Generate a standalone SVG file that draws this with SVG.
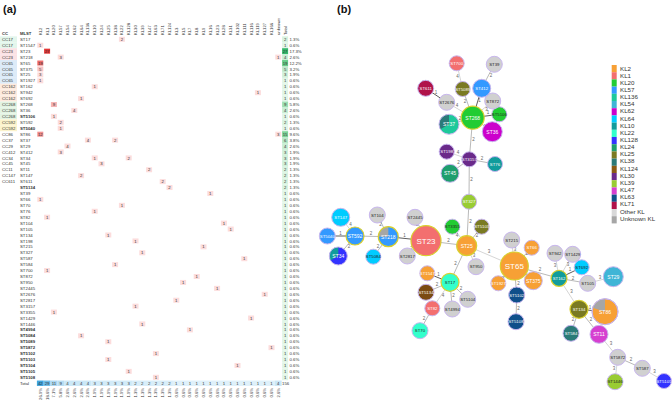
<svg xmlns="http://www.w3.org/2000/svg" width="672" height="405" viewBox="0 0 672 405">
<style>
text{font-family:"Liberation Sans",Arial,sans-serif;font-size:4.3px;fill:#333}
.c{text-anchor:middle}
.b{font-weight:bold}
.k{fill:#fcdcdc}
.hd text{font-size:4.2px}
.pc text{font-size:4.2px;text-anchor:end}
.e1{stroke:#333;stroke-width:0.8}
.e2{stroke:#8a8a8a;stroke-width:0.6}
.e3{stroke:#aaa;stroke-width:0.5}
.el{font-size:4.5px;fill:#666;text-anchor:middle}
.n{stroke:#c8b6ee;stroke-width:1}
.y{stroke:#d9cf2e;stroke-width:1.2}
.nl{text-anchor:middle;fill:#fff;font-size:4.3px}
.nd{fill:#222}
.big{font-size:8px}
.mid{font-size:5px}
.lg text{font-size:6.2px;fill:#333}
.pl{font-size:11px;font-weight:bold;fill:#111}
</style>
<rect width="672" height="405" fill="#fff"/>
<text class="pl" x="3" y="13">(a)</text>
<text class="pl" x="337" y="13">(b)</text>

<g id="table">
<g class="hd">
<text class="b" x="2" y="35">CC</text><text class="b" x="20" y="35">MLST</text>
<text transform="translate(41.8,35) rotate(-90)">KL2</text>
<text transform="translate(48.6,35) rotate(-90)">KL1</text>
<text transform="translate(55.4,35) rotate(-90)">KL20</text>
<text transform="translate(62.2,35) rotate(-90)">KL57</text>
<text transform="translate(69,35) rotate(-90)">KL54</text>
<text transform="translate(75.8,35) rotate(-90)">KL62</text>
<text transform="translate(82.6,35) rotate(-90)">KL64</text>
<text transform="translate(89.4,35) rotate(-90)">KL136</text>
<text transform="translate(96.2,35) rotate(-90)">KL10</text>
<text transform="translate(103,35) rotate(-90)">KL24</text>
<text transform="translate(109.8,35) rotate(-90)">KL25</text>
<text transform="translate(116.6,35) rotate(-90)">KL38</text>
<text transform="translate(123.4,35) rotate(-90)">KL22</text>
<text transform="translate(130.2,35) rotate(-90)">KL128</text>
<text transform="translate(137,35) rotate(-90)">KL30</text>
<text transform="translate(143.8,35) rotate(-90)">KL39</text>
<text transform="translate(150.6,35) rotate(-90)">KL47</text>
<text transform="translate(157.4,35) rotate(-90)">KL63</text>
<text transform="translate(164.2,35) rotate(-90)">KL71</text>
<text transform="translate(171,35) rotate(-90)">KL124</text>
<text transform="translate(177.8,35) rotate(-90)">KL3</text>
<text transform="translate(184.6,35) rotate(-90)">KL5</text>
<text transform="translate(191.4,35) rotate(-90)">KL7</text>
<text transform="translate(198.2,35) rotate(-90)">KL8</text>
<text transform="translate(205,35) rotate(-90)">KL9</text>
<text transform="translate(211.8,35) rotate(-90)">KL16</text>
<text transform="translate(218.6,35) rotate(-90)">KL23</text>
<text transform="translate(225.4,35) rotate(-90)">KL28</text>
<text transform="translate(232.2,35) rotate(-90)">KL31</text>
<text transform="translate(239,35) rotate(-90)">KL102</text>
<text transform="translate(245.8,35) rotate(-90)">KL111</text>
<text transform="translate(252.6,35) rotate(-90)">KL116</text>
<text transform="translate(259.4,35) rotate(-90)">KL119</text>
<text transform="translate(266.2,35) rotate(-90)">KL127</text>
<text transform="translate(273,35) rotate(-90)">KL166</text>
<text transform="translate(279.8,35) rotate(-90)">unknown</text>
<text transform="translate(286.6,35) rotate(-90)">Total</text>
</g>

<g transform="translate(0,39.3)"><rect x="0" y="-2.97" width="17" height="5.93" fill="#e3f6ec"/><text x="2" y="1.6">CC17</text><text x="20" y="1.6">ST17</text><rect class="k" x="118.9" y="-2.5" width="6" height="5"/><text class="c" x="121.9" y="1.6">2</text><rect x="282.1" y="-2.97" width="6" height="5.93" fill="#d9f3e0"/><text class="c" x="285.1" y="1.6">2</text><text x="289.5" y="1.6">1.3%</text></g>
<g transform="translate(0,45.23)"><rect x="0" y="-2.97" width="17" height="5.93" fill="#e3f6ec"/><text x="2" y="1.6">CC17</text><text x="20" y="1.6">ST1547</text><rect class="k" x="37.3" y="-2.5" width="6" height="5"/><text class="c" x="40.3" y="1.6">1</text><rect x="282.1" y="-2.97" width="6" height="5.93" fill="#e2f6e7"/><text class="c" x="285.1" y="1.6">1</text><text x="289.5" y="1.6">0.6%</text></g>
<g transform="translate(0,51.16)"><rect x="0" y="-2.97" width="17" height="5.93" fill="#fbe2e5"/><text x="2" y="1.6">CC23</text><text x="20" y="1.6">ST23</text><rect x="44.1" y="-2.5" width="6" height="5" fill="#e53535"/><text class="c" x="47.1" y="1.6">27</text><rect x="282.1" y="-2.97" width="6" height="5.93" fill="#35b86a"/><text class="c" x="285.1" y="1.6">27</text><text x="289.5" y="1.6">17.3%</text></g>
<g transform="translate(0,57.09)"><rect x="0" y="-2.97" width="17" height="5.93" fill="#fbe2e5"/><text x="2" y="1.6">CC23</text><text x="20" y="1.6">ST218</text><rect class="k" x="57.7" y="-2.5" width="6" height="5"/><text class="c" x="60.7" y="1.6">3</text><rect class="k" x="275.3" y="-2.5" width="6" height="5"/><text class="c" x="278.3" y="1.6">1</text><rect x="282.1" y="-2.97" width="6" height="5.93" fill="#c9eed3"/><text class="c" x="285.1" y="1.6">4</text><text x="289.5" y="1.6">2.6%</text></g>
<g transform="translate(0,63.02)"><rect x="0" y="-2.97" width="17" height="5.93" fill="#dcebf8"/><text x="2" y="1.6">CC65</text><text x="20" y="1.6">ST65</text><rect x="37.3" y="-2.5" width="6" height="5" fill="#ee6b6b"/><text class="c" x="40.3" y="1.6">19</text><rect x="282.1" y="-2.97" width="6" height="5.93" fill="#66cc88"/><text class="c" x="285.1" y="1.6">19</text><text x="289.5" y="1.6">12.2%</text></g>
<g transform="translate(0,68.95)"><rect x="0" y="-2.97" width="17" height="5.93" fill="#dcebf8"/><text x="2" y="1.6">CC65</text><text x="20" y="1.6">ST375</text><rect x="37.3" y="-2.5" width="6" height="5" fill="#f9c4c4"/><text class="c" x="40.3" y="1.6">5</text><rect x="282.1" y="-2.97" width="6" height="5.93" fill="#bfe9cb"/><text class="c" x="285.1" y="1.6">5</text><text x="289.5" y="1.6">3.2%</text></g>
<g transform="translate(0,74.88)"><rect x="0" y="-2.97" width="17" height="5.93" fill="#dcebf8"/><text x="2" y="1.6">CC65</text><text x="20" y="1.6">ST25</text><rect class="k" x="37.3" y="-2.5" width="6" height="5"/><text class="c" x="40.3" y="1.6">3</text><rect x="282.1" y="-2.97" width="6" height="5.93" fill="#d2f0da"/><text class="c" x="285.1" y="1.6">3</text><text x="289.5" y="1.6">1.9%</text></g>
<g transform="translate(0,80.81)"><rect x="0" y="-2.97" width="17" height="5.93" fill="#dcebf8"/><text x="2" y="1.6">CC65</text><text x="20" y="1.6">ST1927</text><rect class="k" x="37.3" y="-2.5" width="6" height="5"/><text class="c" x="40.3" y="1.6">1</text><rect x="282.1" y="-2.97" width="6" height="5.93" fill="#e2f6e7"/><text class="c" x="285.1" y="1.6">1</text><text x="289.5" y="1.6">0.6%</text></g>
<g transform="translate(0,86.74)"><rect x="0" y="-2.97" width="17" height="5.93" fill="#fdeadd"/><text x="2" y="1.6">CC162</text><text x="20" y="1.6">ST162</text><rect class="k" x="91.7" y="-2.5" width="6" height="5"/><text class="c" x="94.7" y="1.6">1</text><rect x="282.1" y="-2.97" width="6" height="5.93" fill="#e2f6e7"/><text class="c" x="285.1" y="1.6">1</text><text x="289.5" y="1.6">0.6%</text></g>
<g transform="translate(0,92.67)"><rect x="0" y="-2.97" width="17" height="5.93" fill="#fdeadd"/><text x="2" y="1.6">CC162</text><text x="20" y="1.6">ST942</text><rect class="k" x="254.9" y="-2.5" width="6" height="5"/><text class="c" x="257.9" y="1.6">1</text><rect x="282.1" y="-2.97" width="6" height="5.93" fill="#e2f6e7"/><text class="c" x="285.1" y="1.6">1</text><text x="289.5" y="1.6">0.6%</text></g>
<g transform="translate(0,98.6)"><rect x="0" y="-2.97" width="17" height="5.93" fill="#fdeadd"/><text x="2" y="1.6">CC162</text><text x="20" y="1.6">ST692</text><rect class="k" x="78.1" y="-2.5" width="6" height="5"/><text class="c" x="81.1" y="1.6">1</text><rect x="282.1" y="-2.97" width="6" height="5.93" fill="#e2f6e7"/><text class="c" x="285.1" y="1.6">1</text><text x="289.5" y="1.6">0.6%</text></g>
<g transform="translate(0,104.53)"><rect x="0" y="-2.97" width="17" height="5.93" fill="#e2f3e2"/><text x="2" y="1.6">CC268</text><text x="20" y="1.6">ST268</text><rect x="50.9" y="-2.5" width="6" height="5" fill="#f6b3b3"/><text class="c" x="53.9" y="1.6">9</text><rect x="282.1" y="-2.97" width="6" height="5.93" fill="#9fdfb3"/><text class="c" x="285.1" y="1.6">9</text><text x="289.5" y="1.6">5.8%</text></g>
<g transform="translate(0,110.46)"><rect x="0" y="-2.97" width="17" height="5.93" fill="#e2f3e2"/><text x="2" y="1.6">CC268</text><text x="20" y="1.6">ST36</text><rect class="k" x="71.3" y="-2.5" width="6" height="5"/><text class="c" x="74.3" y="1.6">4</text><rect x="282.1" y="-2.97" width="6" height="5.93" fill="#c9eed3"/><text class="c" x="285.1" y="1.6">4</text><text x="289.5" y="1.6">2.6%</text></g>
<g transform="translate(0,116.39)"><rect x="0" y="-2.97" width="17" height="5.93" fill="#e2f3e2"/><text x="2" y="1.6">CC268</text><text class="b" x="20" y="1.6">ST5106</text><rect class="k" x="50.9" y="-2.5" width="6" height="5"/><text class="c" x="53.9" y="1.6">1</text><rect x="282.1" y="-2.97" width="6" height="5.93" fill="#e2f6e7"/><text class="c" x="285.1" y="1.6">1</text><text x="289.5" y="1.6">0.6%</text></g>
<g transform="translate(0,122.32)"><rect x="0" y="-2.97" width="17" height="5.93" fill="#fbf3cc"/><text x="2" y="1.6">CC592</text><text x="20" y="1.6">ST592</text><rect class="k" x="57.7" y="-2.5" width="6" height="5"/><text class="c" x="60.7" y="1.6">2</text><rect x="282.1" y="-2.97" width="6" height="5.93" fill="#d9f3e0"/><text class="c" x="285.1" y="1.6">2</text><text x="289.5" y="1.6">1.3%</text></g>
<g transform="translate(0,128.25)"><rect x="0" y="-2.97" width="17" height="5.93" fill="#fbf3cc"/><text x="2" y="1.6">CC592</text><text class="b" x="20" y="1.6">ST5040</text><rect class="k" x="57.7" y="-2.5" width="6" height="5"/><text class="c" x="60.7" y="1.6">1</text><rect x="282.1" y="-2.97" width="6" height="5.93" fill="#e2f6e7"/><text class="c" x="285.1" y="1.6">1</text><text x="289.5" y="1.6">0.6%</text></g>
<g transform="translate(0,134.18)"><text x="2" y="1.6">CC86</text><text x="20" y="1.6">ST86</text><rect x="37.3" y="-2.5" width="6" height="5" fill="#f38f8f"/><text class="c" x="40.3" y="1.6">12</text><rect class="k" x="275.3" y="-2.5" width="6" height="5"/><text class="c" x="278.3" y="1.6">3</text><rect x="282.1" y="-2.97" width="6" height="5.93" fill="#7dd498"/><text class="c" x="285.1" y="1.6">15</text><text x="289.5" y="1.6">9.6%</text></g>
<g transform="translate(0,140.11)"><text x="2" y="1.6">CC37</text><text x="20" y="1.6">ST37</text><rect class="k" x="84.9" y="-2.5" width="6" height="5"/><text class="c" x="87.9" y="1.6">4</text><rect class="k" x="112.1" y="-2.5" width="6" height="5"/><text class="c" x="115.1" y="1.6">2</text><rect x="282.1" y="-2.97" width="6" height="5.93" fill="#b8e7c6"/><text class="c" x="285.1" y="1.6">6</text><text x="289.5" y="1.6">3.8%</text></g>
<g transform="translate(0,146.04)"><text x="2" y="1.6">CC29</text><text x="20" y="1.6">ST29</text><rect class="k" x="64.5" y="-2.5" width="6" height="5"/><text class="c" x="67.5" y="1.6">4</text><rect x="282.1" y="-2.97" width="6" height="5.93" fill="#c9eed3"/><text class="c" x="285.1" y="1.6">4</text><text x="289.5" y="1.6">2.6%</text></g>
<g transform="translate(0,151.97)"><text x="2" y="1.6">CC412</text><text x="20" y="1.6">ST412</text><rect class="k" x="57.7" y="-2.5" width="6" height="5"/><text class="c" x="60.7" y="1.6">3</text><rect x="282.1" y="-2.97" width="6" height="5.93" fill="#d2f0da"/><text class="c" x="285.1" y="1.6">3</text><text x="289.5" y="1.6">1.9%</text></g>
<g transform="translate(0,157.9)"><text x="2" y="1.6">CC34</text><text x="20" y="1.6">ST34</text><rect class="k" x="91.7" y="-2.5" width="6" height="5"/><text class="c" x="94.7" y="1.6">1</text><rect class="k" x="125.7" y="-2.5" width="6" height="5"/><text class="c" x="128.7" y="1.6">2</text><rect x="282.1" y="-2.97" width="6" height="5.93" fill="#d2f0da"/><text class="c" x="285.1" y="1.6">3</text><text x="289.5" y="1.6">1.9%</text></g>
<g transform="translate(0,163.83)"><text x="2" y="1.6">CC45</text><text x="20" y="1.6">ST45</text><rect class="k" x="98.5" y="-2.5" width="6" height="5"/><text class="c" x="101.5" y="1.6">3</text><rect x="282.1" y="-2.97" width="6" height="5.93" fill="#d2f0da"/><text class="c" x="285.1" y="1.6">3</text><text x="289.5" y="1.6">1.9%</text></g>
<g transform="translate(0,169.76)"><text x="2" y="1.6">CC11</text><text x="20" y="1.6">ST11</text><rect class="k" x="146.1" y="-2.5" width="6" height="5"/><text class="c" x="149.1" y="1.6">2</text><rect x="282.1" y="-2.97" width="6" height="5.93" fill="#d9f3e0"/><text class="c" x="285.1" y="1.6">2</text><text x="289.5" y="1.6">1.3%</text></g>
<g transform="translate(0,175.69)"><text x="2" y="1.6">CC147</text><text x="20" y="1.6">ST147</text><rect class="k" x="78.1" y="-2.5" width="6" height="5"/><text class="c" x="81.1" y="1.6">2</text><rect x="282.1" y="-2.97" width="6" height="5.93" fill="#d9f3e0"/><text class="c" x="285.1" y="1.6">2</text><text x="289.5" y="1.6">1.3%</text></g>
<g transform="translate(0,181.62)"><text x="2" y="1.6">CC611</text><text x="20" y="1.6">ST611</text><rect class="k" x="159.7" y="-2.5" width="6" height="5"/><text class="c" x="162.7" y="1.6">2</text><rect x="282.1" y="-2.97" width="6" height="5.93" fill="#d9f3e0"/><text class="c" x="285.1" y="1.6">2</text><text x="289.5" y="1.6">1.3%</text></g>
<g transform="translate(0,187.55)"><text class="b" x="20" y="1.6">ST5134</text><rect class="k" x="166.5" y="-2.5" width="6" height="5"/><text class="c" x="169.5" y="1.6">2</text><rect x="282.1" y="-2.97" width="6" height="5.93" fill="#d9f3e0"/><text class="c" x="285.1" y="1.6">2</text><text x="289.5" y="1.6">1.3%</text></g>
<g transform="translate(0,193.48)"><text x="20" y="1.6">ST39</text><rect class="k" x="207.3" y="-2.5" width="6" height="5"/><text class="c" x="210.3" y="1.6">1</text><rect x="282.1" y="-2.97" width="6" height="5.93" fill="#e2f6e7"/><text class="c" x="285.1" y="1.6">1</text><text x="289.5" y="1.6">0.6%</text></g>
<g transform="translate(0,199.41)"><text x="20" y="1.6">ST66</text><rect class="k" x="37.3" y="-2.5" width="6" height="5"/><text class="c" x="40.3" y="1.6">1</text><rect x="282.1" y="-2.97" width="6" height="5.93" fill="#e2f6e7"/><text class="c" x="285.1" y="1.6">1</text><text x="289.5" y="1.6">0.6%</text></g>
<g transform="translate(0,205.34)"><text x="20" y="1.6">ST70</text><rect class="k" x="118.9" y="-2.5" width="6" height="5"/><text class="c" x="121.9" y="1.6">1</text><rect x="282.1" y="-2.97" width="6" height="5.93" fill="#e2f6e7"/><text class="c" x="285.1" y="1.6">1</text><text x="289.5" y="1.6">0.6%</text></g>
<g transform="translate(0,211.27)"><text x="20" y="1.6">ST76</text><rect class="k" x="91.7" y="-2.5" width="6" height="5"/><text class="c" x="94.7" y="1.6">1</text><rect x="282.1" y="-2.97" width="6" height="5.93" fill="#e2f6e7"/><text class="c" x="285.1" y="1.6">1</text><text x="289.5" y="1.6">0.6%</text></g>
<g transform="translate(0,217.2)"><text x="20" y="1.6">ST82</text><rect class="k" x="44.1" y="-2.5" width="6" height="5"/><text class="c" x="47.1" y="1.6">1</text><rect x="282.1" y="-2.97" width="6" height="5.93" fill="#e2f6e7"/><text class="c" x="285.1" y="1.6">1</text><text x="289.5" y="1.6">0.6%</text></g>
<g transform="translate(0,223.13)"><text x="20" y="1.6">ST104</text><rect class="k" x="220.9" y="-2.5" width="6" height="5"/><text class="c" x="223.9" y="1.6">1</text><rect x="282.1" y="-2.97" width="6" height="5.93" fill="#e2f6e7"/><text class="c" x="285.1" y="1.6">1</text><text x="289.5" y="1.6">0.6%</text></g>
<g transform="translate(0,229.06)"><text x="20" y="1.6">ST105</text><rect class="k" x="227.7" y="-2.5" width="6" height="5"/><text class="c" x="230.7" y="1.6">1</text><rect x="282.1" y="-2.97" width="6" height="5.93" fill="#e2f6e7"/><text class="c" x="285.1" y="1.6">1</text><text x="289.5" y="1.6">0.6%</text></g>
<g transform="translate(0,234.99)"><text x="20" y="1.6">ST134</text><rect class="k" x="105.3" y="-2.5" width="6" height="5"/><text class="c" x="108.3" y="1.6">1</text><rect x="282.1" y="-2.97" width="6" height="5.93" fill="#e2f6e7"/><text class="c" x="285.1" y="1.6">1</text><text x="289.5" y="1.6">0.6%</text></g>
<g transform="translate(0,240.92)"><text x="20" y="1.6">ST198</text><rect class="k" x="132.5" y="-2.5" width="6" height="5"/><text class="c" x="135.5" y="1.6">1</text><rect x="282.1" y="-2.97" width="6" height="5.93" fill="#e2f6e7"/><text class="c" x="285.1" y="1.6">1</text><text x="289.5" y="1.6">0.6%</text></g>
<g transform="translate(0,246.85)"><text x="20" y="1.6">ST215</text><rect class="k" x="200.5" y="-2.5" width="6" height="5"/><text class="c" x="203.5" y="1.6">1</text><rect x="282.1" y="-2.97" width="6" height="5.93" fill="#e2f6e7"/><text class="c" x="285.1" y="1.6">1</text><text x="289.5" y="1.6">0.6%</text></g>
<g transform="translate(0,252.78)"><text x="20" y="1.6">ST327</text><rect class="k" x="139.3" y="-2.5" width="6" height="5"/><text class="c" x="142.3" y="1.6">1</text><rect x="282.1" y="-2.97" width="6" height="5.93" fill="#e2f6e7"/><text class="c" x="285.1" y="1.6">1</text><text x="289.5" y="1.6">0.6%</text></g>
<g transform="translate(0,258.71)"><text x="20" y="1.6">ST587</text><rect class="k" x="241.3" y="-2.5" width="6" height="5"/><text class="c" x="244.3" y="1.6">1</text><rect x="282.1" y="-2.97" width="6" height="5.93" fill="#e2f6e7"/><text class="c" x="285.1" y="1.6">1</text><text x="289.5" y="1.6">0.6%</text></g>
<g transform="translate(0,264.64)"><text x="20" y="1.6">ST584</text><rect class="k" x="112.1" y="-2.5" width="6" height="5"/><text class="c" x="115.1" y="1.6">1</text><rect x="282.1" y="-2.97" width="6" height="5.93" fill="#e2f6e7"/><text class="c" x="285.1" y="1.6">1</text><text x="289.5" y="1.6">0.6%</text></g>
<g transform="translate(0,270.57)"><text x="20" y="1.6">ST700</text><rect class="k" x="44.1" y="-2.5" width="6" height="5"/><text class="c" x="47.1" y="1.6">1</text><rect x="282.1" y="-2.97" width="6" height="5.93" fill="#e2f6e7"/><text class="c" x="285.1" y="1.6">1</text><text x="289.5" y="1.6">0.6%</text></g>
<g transform="translate(0,276.5)"><text x="20" y="1.6">ST872</text><rect class="k" x="193.7" y="-2.5" width="6" height="5"/><text class="c" x="196.7" y="1.6">1</text><rect x="282.1" y="-2.97" width="6" height="5.93" fill="#e2f6e7"/><text class="c" x="285.1" y="1.6">1</text><text x="289.5" y="1.6">0.6%</text></g>
<g transform="translate(0,282.43)"><text x="20" y="1.6">ST950</text><rect class="k" x="180.1" y="-2.5" width="6" height="5"/><text class="c" x="183.1" y="1.6">1</text><rect x="282.1" y="-2.97" width="6" height="5.93" fill="#e2f6e7"/><text class="c" x="285.1" y="1.6">1</text><text x="289.5" y="1.6">0.6%</text></g>
<g transform="translate(0,288.36)"><text x="20" y="1.6">ST2445</text><rect class="k" x="214.1" y="-2.5" width="6" height="5"/><text class="c" x="217.1" y="1.6">1</text><rect x="282.1" y="-2.97" width="6" height="5.93" fill="#e2f6e7"/><text class="c" x="285.1" y="1.6">1</text><text x="289.5" y="1.6">0.6%</text></g>
<g transform="translate(0,294.29)"><text x="20" y="1.6">ST2676</text><rect class="k" x="261.7" y="-2.5" width="6" height="5"/><text class="c" x="264.7" y="1.6">1</text><rect x="282.1" y="-2.97" width="6" height="5.93" fill="#e2f6e7"/><text class="c" x="285.1" y="1.6">1</text><text x="289.5" y="1.6">0.6%</text></g>
<g transform="translate(0,300.22)"><text x="20" y="1.6">ST2817</text><rect class="k" x="173.3" y="-2.5" width="6" height="5"/><text class="c" x="176.3" y="1.6">1</text><rect x="282.1" y="-2.97" width="6" height="5.93" fill="#e2f6e7"/><text class="c" x="285.1" y="1.6">1</text><text x="289.5" y="1.6">0.6%</text></g>
<g transform="translate(0,306.15)"><text x="20" y="1.6">ST3157</text><rect class="k" x="132.5" y="-2.5" width="6" height="5"/><text class="c" x="135.5" y="1.6">1</text><rect x="282.1" y="-2.97" width="6" height="5.93" fill="#e2f6e7"/><text class="c" x="285.1" y="1.6">1</text><text x="289.5" y="1.6">0.6%</text></g>
<g transform="translate(0,312.08)"><text x="20" y="1.6">ST3355</text><rect class="k" x="50.9" y="-2.5" width="6" height="5"/><text class="c" x="53.9" y="1.6">1</text><rect x="282.1" y="-2.97" width="6" height="5.93" fill="#e2f6e7"/><text class="c" x="285.1" y="1.6">1</text><text x="289.5" y="1.6">0.6%</text></g>
<g transform="translate(0,318.01)"><text x="20" y="1.6">ST1429</text><rect class="k" x="248.1" y="-2.5" width="6" height="5"/><text class="c" x="251.1" y="1.6">1</text><rect x="282.1" y="-2.97" width="6" height="5.93" fill="#e2f6e7"/><text class="c" x="285.1" y="1.6">1</text><text x="289.5" y="1.6">0.6%</text></g>
<g transform="translate(0,323.94)"><text x="20" y="1.6">ST1446</text><rect class="k" x="139.3" y="-2.5" width="6" height="5"/><text class="c" x="142.3" y="1.6">1</text><rect x="282.1" y="-2.97" width="6" height="5.93" fill="#e2f6e7"/><text class="c" x="285.1" y="1.6">1</text><text x="289.5" y="1.6">0.6%</text></g>
<g transform="translate(0,329.87)"><text class="b" x="20" y="1.6">ST4994</text><rect class="k" x="186.9" y="-2.5" width="6" height="5"/><text class="c" x="189.9" y="1.6">1</text><rect x="282.1" y="-2.97" width="6" height="5.93" fill="#e2f6e7"/><text class="c" x="285.1" y="1.6">1</text><text x="289.5" y="1.6">0.6%</text></g>
<g transform="translate(0,335.8)"><text class="b" x="20" y="1.6">ST5084</text><rect class="k" x="78.1" y="-2.5" width="6" height="5"/><text class="c" x="81.1" y="1.6">1</text><rect x="282.1" y="-2.97" width="6" height="5.93" fill="#e2f6e7"/><text class="c" x="285.1" y="1.6">1</text><text x="289.5" y="1.6">0.6%</text></g>
<g transform="translate(0,341.73)"><text class="b" x="20" y="1.6">ST5089</text><rect class="k" x="105.3" y="-2.5" width="6" height="5"/><text class="c" x="108.3" y="1.6">1</text><rect x="282.1" y="-2.97" width="6" height="5.93" fill="#e2f6e7"/><text class="c" x="285.1" y="1.6">1</text><text x="289.5" y="1.6">0.6%</text></g>
<g transform="translate(0,347.66)"><text class="b" x="20" y="1.6">ST5872</text><rect class="k" x="268.5" y="-2.5" width="6" height="5"/><text class="c" x="271.5" y="1.6">1</text><rect x="282.1" y="-2.97" width="6" height="5.93" fill="#e2f6e7"/><text class="c" x="285.1" y="1.6">1</text><text x="289.5" y="1.6">0.6%</text></g>
<g transform="translate(0,353.59)"><text class="b" x="20" y="1.6">ST5102</text><rect class="k" x="152.9" y="-2.5" width="6" height="5"/><text class="c" x="155.9" y="1.6">1</text><rect x="282.1" y="-2.97" width="6" height="5.93" fill="#e2f6e7"/><text class="c" x="285.1" y="1.6">1</text><text x="289.5" y="1.6">0.6%</text></g>
<g transform="translate(0,359.52)"><text class="b" x="20" y="1.6">ST5103</text><rect class="k" x="105.3" y="-2.5" width="6" height="5"/><text class="c" x="108.3" y="1.6">1</text><rect x="282.1" y="-2.97" width="6" height="5.93" fill="#e2f6e7"/><text class="c" x="285.1" y="1.6">1</text><text x="289.5" y="1.6">0.6%</text></g>
<g transform="translate(0,365.45)"><text class="b" x="20" y="1.6">ST5104</text><rect class="k" x="234.5" y="-2.5" width="6" height="5"/><text class="c" x="237.5" y="1.6">1</text><rect x="282.1" y="-2.97" width="6" height="5.93" fill="#e2f6e7"/><text class="c" x="285.1" y="1.6">1</text><text x="289.5" y="1.6">0.6%</text></g>
<g transform="translate(0,371.38)"><text class="b" x="20" y="1.6">ST5105</text><rect class="k" x="125.7" y="-2.5" width="6" height="5"/><text class="c" x="128.7" y="1.6">1</text><rect x="282.1" y="-2.97" width="6" height="5.93" fill="#e2f6e7"/><text class="c" x="285.1" y="1.6">1</text><text x="289.5" y="1.6">0.6%</text></g>
<g transform="translate(0,377.31)"><text class="b" x="20" y="1.6">ST5108</text><rect class="k" x="152.9" y="-2.5" width="6" height="5"/><text class="c" x="155.9" y="1.6">1</text><rect x="282.1" y="-2.97" width="6" height="5.93" fill="#e2f6e7"/><text class="c" x="285.1" y="1.6">1</text><text x="289.5" y="1.6">0.6%</text></g>

<g transform="translate(0,383.24)">
<text x="20" y="1.6">Total</text>
<rect x="36.9" y="-2.7" width="6.8" height="5.4" fill="#3ea6e0"/>
<rect x="43.7" y="-2.7" width="6.8" height="5.4" fill="#6cbde9"/>
<rect x="50.5" y="-2.7" width="6.8" height="5.4" fill="#acd8f2"/>
<rect x="57.3" y="-2.7" width="6.8" height="5.4" fill="#b8def3"/>
<rect x="64.1" y="-2.7" width="27.2" height="5.4" fill="#cbe8f7"/>
<rect x="91.3" y="-2.7" width="40.8" height="5.4" fill="#d2ebf8"/>
<rect x="132.1" y="-2.7" width="40.8" height="5.4" fill="#d8eef9"/>
<rect x="172.9" y="-2.7" width="102" height="5.4" fill="#dff1fa"/>
<rect x="274.9" y="-2.7" width="6.8" height="5.4" fill="#cbe8f7"/>
<text class="c" x="40.3" y="1.6">42</text><text class="c" x="47.1" y="1.6">29</text><text class="c" x="53.9" y="1.6">11</text><text class="c" x="60.7" y="1.6">9</text><text class="c" x="67.5" y="1.6">4</text><text class="c" x="74.3" y="1.6">4</text><text class="c" x="81.1" y="1.6">4</text><text class="c" x="87.9" y="1.6">4</text><text class="c" x="94.7" y="1.6">3</text><text class="c" x="101.5" y="1.6">3</text><text class="c" x="108.3" y="1.6">3</text><text class="c" x="115.1" y="1.6">3</text><text class="c" x="121.9" y="1.6">3</text><text class="c" x="128.7" y="1.6">3</text><text class="c" x="135.5" y="1.6">2</text><text class="c" x="142.3" y="1.6">2</text><text class="c" x="149.1" y="1.6">2</text><text class="c" x="155.9" y="1.6">2</text><text class="c" x="162.7" y="1.6">2</text><text class="c" x="169.5" y="1.6">2</text><text class="c" x="176.3" y="1.6">1</text><text class="c" x="183.1" y="1.6">1</text><text class="c" x="189.9" y="1.6">1</text><text class="c" x="196.7" y="1.6">1</text><text class="c" x="203.5" y="1.6">1</text><text class="c" x="210.3" y="1.6">1</text><text class="c" x="217.1" y="1.6">1</text><text class="c" x="223.9" y="1.6">1</text><text class="c" x="230.7" y="1.6">1</text><text class="c" x="237.5" y="1.6">1</text><text class="c" x="244.3" y="1.6">1</text><text class="c" x="251.1" y="1.6">1</text><text class="c" x="257.9" y="1.6">1</text><text class="c" x="264.7" y="1.6">1</text><text class="c" x="271.5" y="1.6">1</text><text class="c" x="278.3" y="1.6">4</text><text class="c" x="285.6" y="1.6">156</text>
</g>
<g class="pc">
<text transform="translate(41.8,388) rotate(-90)">26.9%</text>
<text transform="translate(48.6,388) rotate(-90)">18.6%</text>
<text transform="translate(55.4,388) rotate(-90)">7.1%</text>
<text transform="translate(62.2,388) rotate(-90)">5.8%</text>
<text transform="translate(69,388) rotate(-90)">2.6%</text>
<text transform="translate(75.8,388) rotate(-90)">2.6%</text>
<text transform="translate(82.6,388) rotate(-90)">2.6%</text>
<text transform="translate(89.4,388) rotate(-90)">2.6%</text>
<text transform="translate(96.2,388) rotate(-90)">1.9%</text>
<text transform="translate(103,388) rotate(-90)">1.9%</text>
<text transform="translate(109.8,388) rotate(-90)">1.9%</text>
<text transform="translate(116.6,388) rotate(-90)">1.9%</text>
<text transform="translate(123.4,388) rotate(-90)">1.9%</text>
<text transform="translate(130.2,388) rotate(-90)">1.9%</text>
<text transform="translate(137,388) rotate(-90)">1.3%</text>
<text transform="translate(143.8,388) rotate(-90)">1.3%</text>
<text transform="translate(150.6,388) rotate(-90)">1.3%</text>
<text transform="translate(157.4,388) rotate(-90)">1.3%</text>
<text transform="translate(164.2,388) rotate(-90)">1.3%</text>
<text transform="translate(171,388) rotate(-90)">1.3%</text>
<text transform="translate(177.8,388) rotate(-90)">0.6%</text>
<text transform="translate(184.6,388) rotate(-90)">0.6%</text>
<text transform="translate(191.4,388) rotate(-90)">0.6%</text>
<text transform="translate(198.2,388) rotate(-90)">0.6%</text>
<text transform="translate(205,388) rotate(-90)">0.6%</text>
<text transform="translate(211.8,388) rotate(-90)">0.6%</text>
<text transform="translate(218.6,388) rotate(-90)">0.6%</text>
<text transform="translate(225.4,388) rotate(-90)">0.6%</text>
<text transform="translate(232.2,388) rotate(-90)">0.6%</text>
<text transform="translate(239,388) rotate(-90)">0.6%</text>
<text transform="translate(245.8,388) rotate(-90)">0.6%</text>
<text transform="translate(252.6,388) rotate(-90)">0.6%</text>
<text transform="translate(259.4,388) rotate(-90)">0.6%</text>
<text transform="translate(266.2,388) rotate(-90)">0.6%</text>
<text transform="translate(273,388) rotate(-90)">0.6%</text>
<text transform="translate(279.8,388) rotate(-90)">2.6%</text>
</g>
</g>

<g id="connectors">
<line class="e1" x1="425.7" y1="88.3" x2="446.7" y2="102.3"/><text class="el" x="436" y="93.5">1</text>
<line class="e3" x1="446.7" y1="102.3" x2="472.7" y2="117.7"/><text class="el" x="457" y="107">4</text>
<line class="e3" x1="456.7" y1="63.3" x2="462.7" y2="89"/><text class="el" x="457.5" y="78">4</text>
<line class="e2" x1="462.7" y1="89" x2="472.7" y2="117.7"/><text class="el" x="465" y="103">2</text>
<line class="e2" x1="494.3" y1="64.3" x2="481.7" y2="88.3"/><text class="el" x="491" y="77">2</text>
<line class="e1" x1="481.7" y1="88.3" x2="472.7" y2="117.7"/><text class="el" x="479.5" y="102">1</text>
<line class="e3" x1="492.7" y1="101" x2="472.7" y2="117.7"/><text class="el" x="486.5" y="111">3</text>
<line class="e1" x1="499.3" y1="114.3" x2="472.7" y2="117.7"/><text class="el" x="488" y="114">1</text>
<line class="e2" x1="492.3" y1="131.7" x2="472.7" y2="117.7"/><text class="el" x="485" y="128">2</text>
<line class="e2" x1="449" y1="124.3" x2="472.7" y2="117.7"/><text class="el" x="460" y="119.5">2</text>
<line class="e2" x1="472.7" y1="117.7" x2="469.3" y2="159.3"/><text class="el" x="473.5" y="141">2</text>
<line class="e3" x1="446.7" y1="151.7" x2="469.3" y2="159.3"/><text class="el" x="458" y="153.5">4</text>
<line class="e2" x1="469.3" y1="159.3" x2="495" y2="164"/><text class="el" x="482" y="160">2</text>
<line class="e2" x1="450" y1="173.3" x2="469.3" y2="159.3"/><text class="el" x="458.5" y="164">2</text>
<line class="e2" x1="469.3" y1="159.3" x2="469" y2="201.7"/><text class="el" x="471.5" y="181">2</text>
<line class="e2" x1="469" y1="201.7" x2="466.7" y2="245.7"/><text class="el" x="470.5" y="223">2</text>
<line class="e2" x1="466.7" y1="245.7" x2="426" y2="240.7"/><text class="el" x="448.5" y="241.5">2</text>
<line class="e3" x1="452.3" y1="226.7" x2="466.7" y2="245.7"/><text class="el" x="457" y="237">4</text>
<line class="e2" x1="481.7" y1="226.7" x2="466.7" y2="245.7"/><text class="el" x="477" y="237">2</text>
<line class="e3" x1="476" y1="266.7" x2="466.7" y2="245.7"/><text class="el" x="474" y="257">3</text>
<line class="e3" x1="466.7" y1="245.7" x2="514.3" y2="266"/><text class="el" x="489" y="253">3</text>
<line class="e2" x1="466.7" y1="245.7" x2="450" y2="282.3"/><text class="el" x="455.5" y="265">2</text>
<line class="e1" x1="426" y1="240.7" x2="388.3" y2="236.7"/><text class="el" x="404.5" y="236.5">1</text>
<line class="e2" x1="426" y1="240.7" x2="415" y2="217.3"/><text class="el" x="417" y="226">2</text>
<line class="e2" x1="426" y1="240.7" x2="407.3" y2="256"/><text class="el" x="411.5" y="250">2</text>
<line class="e2" x1="388.3" y1="236.7" x2="355" y2="236"/><text class="el" x="371" y="234.8">2</text>
<line class="e2" x1="388.3" y1="236.7" x2="377.3" y2="215"/><text class="el" x="380.5" y="226">2</text>
<line class="e2" x1="388.3" y1="236.7" x2="373.3" y2="256.7"/><text class="el" x="378" y="248">2</text>
<line class="e1" x1="355" y1="236" x2="327.3" y2="236"/><text class="el" x="340.6" y="234.8">1</text>
<line class="e3" x1="355" y1="236" x2="340.7" y2="217.3"/><text class="el" x="350.5" y="225.5">4</text>
<line class="e2" x1="355" y1="236" x2="338.3" y2="256"/><text class="el" x="349" y="248">2</text>
<line class="e1" x1="450" y1="282.3" x2="427.3" y2="273.3"/><text class="el" x="438.5" y="276">1</text>
<line class="e2" x1="450" y1="282.3" x2="426" y2="292.3"/><text class="el" x="437" y="286">2</text>
<line class="e3" x1="450" y1="282.3" x2="432.3" y2="308.3"/><text class="el" x="443" y="297">4</text>
<line class="e2" x1="432.3" y1="308.3" x2="420" y2="330.7"/><text class="el" x="424" y="320">2</text>
<line class="e2" x1="450" y1="282.3" x2="452.3" y2="309"/><text class="el" x="453.5" y="297">2</text>
<line class="e2" x1="450" y1="282.3" x2="467.7" y2="299.3"/><text class="el" x="461" y="290">2</text>
<line class="e3" x1="514.3" y1="266" x2="511.7" y2="240"/><text class="el" x="515" y="251">3</text>
<line class="e2" x1="514.3" y1="266" x2="531.7" y2="247.7"/><text class="el" x="527" y="255">2</text>
<line class="e2" x1="514.3" y1="266" x2="533.3" y2="280.7"/><text class="el" x="526" y="278">2</text>
<line class="e2" x1="514.3" y1="266" x2="498.3" y2="283.3"/><text class="el" x="503" y="280">2</text>
<line class="e2" x1="514.3" y1="266" x2="516.7" y2="295"/><text class="el" x="518.5" y="284.5">2</text>
<line class="e2" x1="516.7" y1="295" x2="516" y2="321.7"/><text class="el" x="518.5" y="310">2</text>
<line class="e2" x1="514.3" y1="266" x2="559" y2="278.3"/><text class="el" x="540" y="271">2</text>
<line class="e3" x1="559" y1="278.3" x2="555" y2="253.3"/><text class="el" x="555" y="266.5">3</text>
<line class="e3" x1="559" y1="278.3" x2="572.7" y2="254.3"/><text class="el" x="568" y="265.5">3</text>
<line class="e1" x1="559" y1="278.3" x2="581.7" y2="267.3"/><text class="el" x="570" y="270.5">1</text>
<line class="e2" x1="559" y1="278.3" x2="587.7" y2="283.3"/><text class="el" x="573" y="279.5">2</text>
<line class="e3" x1="587.7" y1="283.3" x2="613.3" y2="276.7"/><text class="el" x="600" y="278.5">3</text>
<line class="e3" x1="559" y1="278.3" x2="579" y2="309.3"/><text class="el" x="571.5" y="293">3</text>
<line class="e2" x1="579" y1="309.3" x2="571" y2="333.3"/><text class="el" x="573" y="321">2</text>
<line class="e1" x1="579" y1="309.3" x2="605" y2="311.7"/><text class="el" x="590" y="309">1</text>
<line class="e2" x1="579" y1="309.3" x2="599" y2="334.3"/><text class="el" x="591" y="320.5">2</text>
<line class="e3" x1="599" y1="334.3" x2="617.7" y2="357.3"/><text class="el" x="611" y="345">3</text>
<line class="e3" x1="617.7" y1="357.3" x2="615" y2="381.7"/><text class="el" x="614" y="370">3</text>
<line class="e2" x1="617.7" y1="357.3" x2="642.3" y2="368.3"/><text class="el" x="631" y="361">2</text>
<line class="e3" x1="642.3" y1="368.3" x2="664" y2="381"/><text class="el" x="654.5" y="373">3</text>
</g>

<g id="ST23"><circle class="y" cx="426" cy="240.7" r="15" fill="#f36f6f"/><text class="nl big" x="426" y="243.5">ST23</text></g>
<g id="ST65"><circle class="y" cx="514.3" cy="266" r="14" fill="#f7a035"/><text class="nl big" x="514.3" y="268.8">ST65</text></g>
<g id="ST268"><circle class="y" cx="472.7" cy="117.7" r="11.5" fill="#22cc33"/><text class="nl mid" x="472.7" y="119.5">ST268</text></g>
<g id="ST86"><circle class="n" cx="605" cy="311.7" r="13" fill="#f7a035"/><path d="M605,311.7 L605,298.7 A13,13 0 0 0 592.64,307.68 Z" fill="#a6a6a6"/><circle cx="605" cy="311.7" r="13" fill="none" class="n"/><text class="nl mid" x="605" y="313.5">ST86</text></g>
<g id="ST25"><circle class="y" cx="466.7" cy="245.7" r="10" fill="#f7a035"/><text class="nl mid" x="466.7" y="247.5">ST25</text></g>
<g id="ST218"><circle cx="388.3" cy="236.7" r="10" fill="#3399ff"/><path d="M388.3,236.7 L388.3,226.7 A10,10 0 0 0 378.3,236.7 Z" fill="#a6a6a6"/><circle class="y" cx="388.3" cy="236.7" r="10" fill="none"/><text class="nl mid" x="388.3" y="238.5">ST218</text></g>
<g id="ST592"><circle class="y" cx="355" cy="236" r="9" fill="#3399ff"/><text class="nl mid" x="355" y="237.8">ST592</text></g>
<g id="ST5040"><circle class="n" cx="327.3" cy="236" r="8" fill="#3399ff"/><text class="nl" x="327.3" y="237.5">ST5040</text></g>
<g id="ST147"><circle class="n" cx="340.7" cy="217.3" r="9" fill="#00ccff"/><text class="nl" x="340.7" y="218.8">ST147</text></g>
<g id="ST34"><circle cx="338.3" cy="256" r="9" fill="#3333ff"/><path d="M338.3,256 L338.3,247 A9,9 0 0 0 330.5,260.5 Z" fill="#119c9c"/><circle class="n" cx="338.3" cy="256" r="9" fill="none"/><text class="nl mid" x="338.3" y="257.8">ST34</text></g>
<g id="ST104"><circle class="n" cx="377.3" cy="215" r="8" fill="#d0d0d0"/><text class="nl nd" x="377.3" y="216.5">ST104</text></g>
<g id="ST5084"><circle class="n" cx="373.3" cy="256.7" r="7.5" fill="#00ccff"/><text class="nl nd" x="373.3" y="258.2">ST5084</text></g>
<g id="ST2445"><circle class="n" cx="415" cy="217.3" r="8" fill="#d0d0d0"/><text class="nl nd" x="415" y="218.8">ST2445</text></g>
<g id="ST2817"><circle class="n" cx="407.3" cy="256" r="8" fill="#d0d0d0"/><text class="nl nd" x="407.3" y="257.5">ST2817</text></g>
<g id="ST3355"><circle class="n" cx="452.3" cy="226.7" r="7.5" fill="#22cc33"/><text class="nl nd" x="452.3" y="228.2">ST3355</text></g>
<g id="ST5103"><circle class="n" cx="481.7" cy="226.7" r="7.5" fill="#7a7a22"/><text class="nl" x="481.7" y="228.2">ST5103</text></g>
<g id="ST950"><circle class="n" cx="476" cy="266.7" r="8" fill="#d0d0d0"/><text class="nl nd" x="476" y="268.2">ST950</text></g>
<g id="ST327"><circle class="n" cx="469" cy="201.7" r="7.5" fill="#99cc33"/><text class="nl" x="469" y="203.2">ST327</text></g>
<g id="ST3157"><circle class="n" cx="469.3" cy="159.3" r="7.5" fill="#6a2a8a"/><text class="nl" x="469.3" y="160.8">ST3157</text></g>
<g id="ST198"><circle class="n" cx="446.7" cy="151.7" r="7.5" fill="#6a2a8a"/><text class="nl" x="446.7" y="153.2">ST198</text></g>
<g id="ST76"><circle class="n" cx="495" cy="164" r="7.5" fill="#119c9c"/><text class="nl" x="495" y="165.5">ST76</text></g>
<g id="ST45"><circle class="n" cx="450" cy="173.3" r="9" fill="#1e9e6e"/><text class="nl mid" x="450" y="175.1">ST45</text></g>
<g id="ST37"><circle cx="449" cy="124.3" r="10" fill="#1ec99b"/><path d="M449,124.3 L449,114.3 A10,10 0 0 0 440.34,129.3 Z" fill="#2b7a78"/><circle class="n" cx="449" cy="124.3" r="10" fill="none"/><text class="nl mid" x="449" y="126.1">ST37</text></g>
<g id="ST36"><circle class="n" cx="492.3" cy="131.7" r="10" fill="#cc00cc"/><text class="nl mid" x="492.3" y="133.5">ST36</text></g>
<g id="ST5106"><circle class="n" cx="499.3" cy="114.3" r="7.5" fill="#22cc33"/><text class="nl nd" x="499.3" y="115.8">ST5106</text></g>
<g id="ST872"><circle class="n" cx="492.7" cy="101" r="8" fill="#d0d0d0"/><text class="nl nd" x="492.7" y="102.5">ST872</text></g>
<g id="ST412"><circle class="n" cx="481.7" cy="88.3" r="9" fill="#3399ff"/><text class="nl" x="481.7" y="89.8">ST412</text></g>
<g id="ST39"><circle class="n" cx="494.3" cy="64.3" r="8" fill="#d0d0d0"/><text class="nl nd" x="494.3" y="65.8">ST39</text></g>
<g id="ST5089"><circle class="n" cx="462.7" cy="89" r="7.5" fill="#7a7a22"/><text class="nl" x="462.7" y="90.5">ST5089</text></g>
<g id="ST700"><circle class="n" cx="456.7" cy="63.3" r="7.5" fill="#f36f6f"/><text class="nl" x="456.7" y="64.8">ST700</text></g>
<g id="ST2676"><circle class="n" cx="446.7" cy="102.3" r="8" fill="#d0d0d0"/><text class="nl nd" x="446.7" y="103.8">ST2676</text></g>
<g id="ST611"><circle class="n" cx="425.7" cy="88.3" r="8" fill="#b0124a"/><text class="nl" x="425.7" y="89.8">ST611</text></g>
<g id="ST17"><circle class="y" cx="450" cy="282.3" r="9" fill="#33ffcc"/><text class="nl nd" x="450" y="283.8">ST17</text></g>
<g id="ST1547"><circle class="n" cx="427.3" cy="273.3" r="7.5" fill="#f7a035"/><text class="nl" x="427.3" y="274.8">ST1547</text></g>
<g id="ST5134"><circle class="n" cx="426" cy="292.3" r="8" fill="#7b4a12"/><text class="nl" x="426" y="293.8">ST5134</text></g>
<g id="ST82"><circle class="n" cx="432.3" cy="308.3" r="7.5" fill="#f36f6f"/><text class="nl" x="432.3" y="309.8">ST82</text></g>
<g id="ST4994"><circle class="n" cx="452.3" cy="309" r="8" fill="#d0d0d0"/><text class="nl nd" x="452.3" y="310.5">ST4994</text></g>
<g id="ST5104"><circle class="n" cx="467.7" cy="299.3" r="8" fill="#d0d0d0"/><text class="nl nd" x="467.7" y="300.8">ST5104</text></g>
<g id="ST70"><circle class="n" cx="420" cy="330.7" r="8" fill="#33ffcc"/><text class="nl nd" x="420" y="332.2">ST70</text></g>
<g id="ST215"><circle class="n" cx="511.7" cy="240" r="8" fill="#d0d0d0"/><text class="nl nd" x="511.7" y="241.5">ST215</text></g>
<g id="ST66"><circle class="n" cx="531.7" cy="247.7" r="7.5" fill="#f7a035"/><text class="nl" x="531.7" y="249.2">ST66</text></g>
<g id="ST375"><circle class="n" cx="533.3" cy="280.7" r="9" fill="#f7a035"/><text class="nl mid" x="533.3" y="282.5">ST375</text></g>
<g id="ST1927"><circle class="n" cx="498.3" cy="283.3" r="7.5" fill="#f7a035"/><text class="nl" x="498.3" y="284.8">ST1927</text></g>
<g id="ST5102"><circle class="n" cx="516.7" cy="295" r="8" fill="#0f4f8a"/><text class="nl" x="516.7" y="296.5">ST5102</text></g>
<g id="ST5108"><circle class="n" cx="516" cy="321.7" r="8" fill="#0f4f8a"/><text class="nl" x="516" y="323.2">ST5108</text></g>
<g id="ST162"><circle class="y" cx="559" cy="278.3" r="8" fill="#119c9c"/><text class="nl" x="559" y="279.8">ST162</text></g>
<g id="ST942"><circle class="n" cx="555" cy="253.3" r="8" fill="#d0d0d0"/><text class="nl nd" x="555" y="254.8">ST942</text></g>
<g id="ST1429"><circle class="n" cx="572.7" cy="254.3" r="8" fill="#d0d0d0"/><text class="nl nd" x="572.7" y="255.8">ST1429</text></g>
<g id="ST692"><circle class="n" cx="581.7" cy="267.3" r="7.5" fill="#00ccff"/><text class="nl nd" x="581.7" y="268.8">ST692</text></g>
<g id="ST105"><circle class="n" cx="587.7" cy="283.3" r="8" fill="#d0d0d0"/><text class="nl nd" x="587.7" y="284.8">ST105</text></g>
<g id="ST29"><circle class="n" cx="613.3" cy="276.7" r="10" fill="#3fb5d6"/><text class="nl mid" x="613.3" y="278.5">ST29</text></g>
<g id="ST134"><circle class="y" cx="579" cy="309.3" r="9" fill="#7a7a22"/><text class="nl" x="579" y="310.8">ST134</text></g>
<g id="ST584"><circle class="n" cx="571" cy="333.3" r="8" fill="#2b7a78"/><text class="nl" x="571" y="334.8">ST584</text></g>
<g id="ST11"><circle class="n" cx="599" cy="334.3" r="9" fill="#d63fd0"/><text class="nl mid" x="599" y="336.1">ST11</text></g>
<g id="ST5872"><circle class="n" cx="617.7" cy="357.3" r="8" fill="#d0d0d0"/><text class="nl nd" x="617.7" y="358.8">ST5872</text></g>
<g id="ST587"><circle class="n" cx="642.3" cy="368.3" r="8" fill="#d0d0d0"/><text class="nl nd" x="642.3" y="369.8">ST587</text></g>
<g id="ST1446"><circle class="n" cx="615" cy="381.7" r="8" fill="#99cc33"/><text class="nl nd" x="615" y="383.2">ST1446</text></g>
<g id="ST5105"><circle class="n" cx="664" cy="381" r="7.5" fill="#3333ff"/><text class="nl" x="664" y="382.5">ST5105</text></g>

<g id="legend" class="lg">
<rect x="611.7" y="65" width="5" height="7.2" fill="#f7a035"/><text x="620" y="70.5">KL2</text>
<rect x="611.7" y="72.2" width="5" height="7.2" fill="#f36f6f"/><text x="620" y="77.6">KL1</text>
<rect x="611.7" y="79.4" width="5" height="7.2" fill="#22cc33"/><text x="620" y="84.8">KL20</text>
<rect x="611.7" y="86.6" width="5" height="7.2" fill="#3399ff"/><text x="620" y="91.9">KL57</text>
<rect x="611.7" y="93.8" width="5" height="7.2" fill="#1ec99b"/><text x="620" y="99.1">KL136</text>
<rect x="611.7" y="101" width="5" height="7.2" fill="#3fb5d6"/><text x="620" y="106.2">KL54</text>
<rect x="611.7" y="108.2" width="5" height="7.2" fill="#cc00cc"/><text x="620" y="113.4">KL62</text>
<rect x="611.7" y="115.4" width="5" height="7.2" fill="#00ccff"/><text x="620" y="120.5">KL64</text>
<rect x="611.7" y="122.6" width="5" height="7.2" fill="#119c9c"/><text x="620" y="127.7">KL10</text>
<rect x="611.7" y="129.8" width="5" height="7.2" fill="#33ffcc"/><text x="620" y="134.8">KL22</text>
<rect x="611.7" y="137" width="5" height="7.2" fill="#3333ff"/><text x="620" y="142">KL128</text>
<rect x="611.7" y="144.2" width="5" height="7.2" fill="#1e9e6e"/><text x="620" y="149.1">KL24</text>
<rect x="611.7" y="151.4" width="5" height="7.2" fill="#7a7a22"/><text x="620" y="156.3">KL25</text>
<rect x="611.7" y="158.6" width="5" height="7.2" fill="#2b7a78"/><text x="620" y="163.4">KL38</text>
<rect x="611.7" y="165.8" width="5" height="7.2" fill="#8b5a14"/><text x="620" y="170.6">KL124</text>
<rect x="611.7" y="173" width="5" height="7.2" fill="#6a2a8a"/><text x="620" y="177.7">KL30</text>
<rect x="611.7" y="180.2" width="5" height="7.2" fill="#99cc33"/><text x="620" y="184.9">KL39</text>
<rect x="611.7" y="187.4" width="5" height="7.2" fill="#d63fd0"/><text x="620" y="192">KL47</text>
<rect x="611.7" y="194.6" width="5" height="7.2" fill="#0f4f8a"/><text x="620" y="199.2">KL63</text>
<rect x="611.7" y="201.8" width="5" height="7.2" fill="#b0124a"/><text x="620" y="206.3">KL71</text>
<rect x="611.7" y="209" width="5" height="7.2" fill="#d8d8d8"/><text x="620" y="213.5">Other KL</text>
<rect x="611.7" y="216.2" width="5" height="7.2" fill="#a6a6a6"/><text x="620" y="220.6">Unknown KL</text>
</g>
</svg>
